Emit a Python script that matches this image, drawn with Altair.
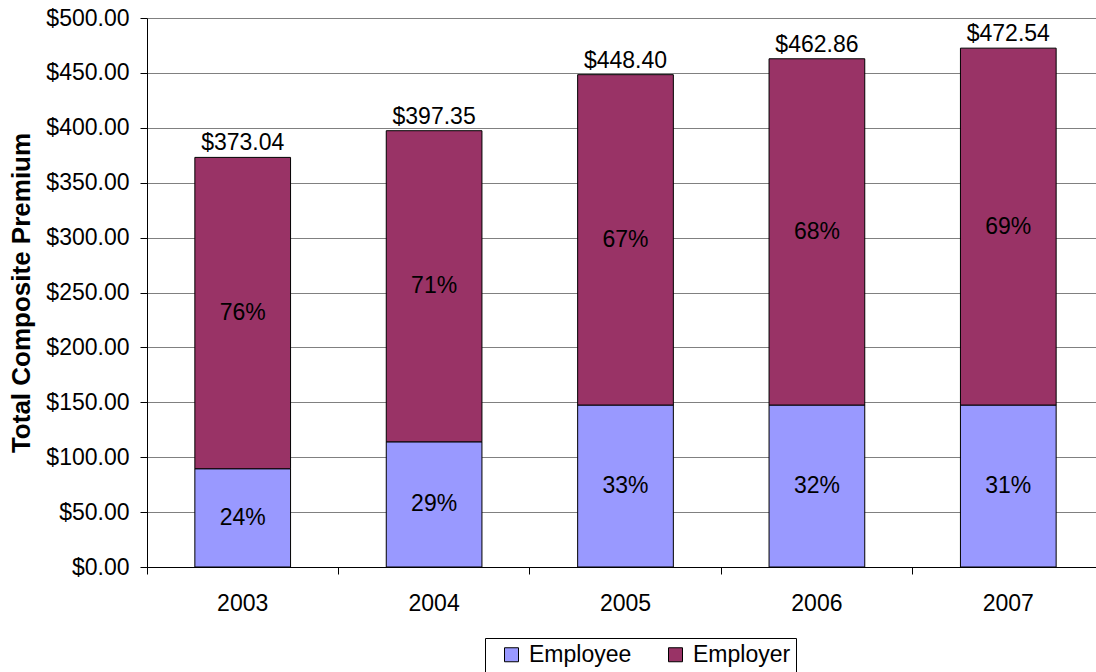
import altair as alt
import pandas as pd

years = ["2003", "2004", "2005", "2006", "2007"]
totals = [373.04, 397.35, 448.40, 462.86, 472.54]
employee = [89.5, 114.0, 147.5, 147.5, 147.5]
employee_pct = [24, 29, 33, 32, 31]
employer_pct = [76, 71, 67, 68, 69]
series = ["Employee", "Employer"]
colors = ["#9999FF", "#993366"]
y_ticks = [0, 50, 100, 150, 200, 250, 300, 350, 400, 450, 500]

rows = []
for i, yr in enumerate(years):
    rows.append(dict(year=yr, series="Employee", start=0.0, end=employee[i],
                     mid=employee[i] / 2, label=f"{employee_pct[i]}%"))
    rows.append(dict(year=yr, series="Employer", start=employee[i], end=totals[i],
                     mid=(employee[i] + totals[i]) / 2, label=f"{employer_pct[i]}%"))
df = pd.DataFrame(rows)
tot = pd.DataFrame(dict(year=years, total=totals, label=[f"${t:.2f}" for t in totals]))

FONT = "Liberation Sans"
FS = 23

xscale = alt.Scale(paddingInner=0, paddingOuter=0, range=[0, 957])
x = alt.X(
    "year:N",
    sort=years,
    scale=xscale,
    axis=alt.Axis(title=None, labelAngle=0, labelFont=FONT, labelFontSize=FS,
                  labelColor="black", labelPadding=18, tickSize=7, tickColor="black",
                  domainColor="black", bandPosition=0, grid=False),
)
yscale = alt.Scale(domain=[0, 500], nice=False)

bars = alt.Chart(df).mark_bar(
    width=alt.RelativeBandSize(0.5), stroke="black", strokeWidth=1
).encode(
    x=x,
    y=alt.Y("end:Q", scale=yscale,
            axis=alt.Axis(title="Total Composite Premium", values=y_ticks, format="$.2f",
                          labelFont=FONT, labelFontSize=FS, labelColor="black",
                          labelPadding=11, tickSize=7, tickColor="black",
                          domainColor="black", grid=True, gridColor="#808080",
                          gridWidth=1, titleFont=FONT, titleFontSize=26,
                          titleFontWeight="bold", titleColor="black", titlePadding=11)),
    y2="start:Q",
    fill=alt.Fill("series:N", scale=alt.Scale(domain=series, range=colors),
                  legend=alt.Legend(orient="none", legendX=338, legendY=620,
                                    direction="horizontal", title=None,
                                    symbolType="square", symbolSize=196,
                                    symbolStrokeColor="black", symbolStrokeWidth=1,
                                    symbolOffset=10, labelOffset=6,
                                    labelFont=FONT, labelFontSize=FS, labelColor="black",
                                    strokeColor="black", padding=5, columnPadding=22)),
)

pct = alt.Chart(df).mark_text(font=FONT, fontSize=FS, color="black", baseline="middle").encode(
    x=alt.X("year:N", sort=years, scale=xscale),
    y=alt.Y("mid:Q", scale=yscale),
    text="label:N",
)

top = alt.Chart(tot).mark_text(font=FONT, fontSize=FS, color="black", baseline="bottom", dy=-2).encode(
    x=alt.X("year:N", sort=years, scale=xscale),
    y=alt.Y("total:Q", scale=yscale),
    text="label:N",
)

chart = alt.layer(bars, pct, top).properties(
    width=949, height=549,
    padding={"left": 147, "top": 18, "right": 0, "bottom": 105},
    autosize=alt.AutoSizeParams(type="none"),
).configure_view(stroke=None)

chart.save("out.html", embed_options={"renderer": "svg", "actions": False})
